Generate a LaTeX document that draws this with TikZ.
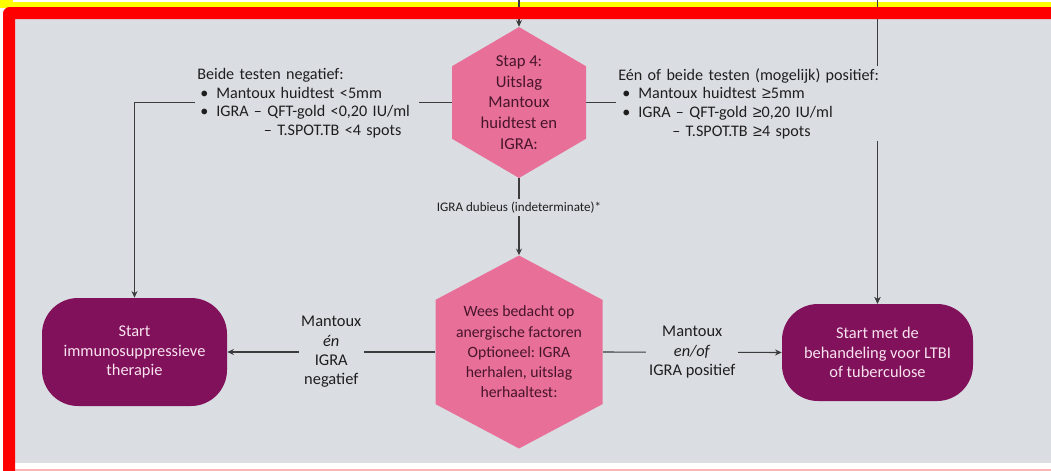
\documentclass[tikz,border=0pt]{standalone}
\usepackage{fontspec}
\setmainfont{Carlito}
\newfontfamily\symfam{Liberation Sans}
\usetikzlibrary{arrows.meta,calc}
\pgfdeclarelayer{bgl}
\pgfdeclarelayer{edgel}
\pgfsetlayers{bgl,edgel,main}
\definecolor{bg}{RGB}{218,222,227}
\definecolor{hexpink}{RGB}{232,112,152}
\definecolor{plum}{RGB}{128,17,90}
\definecolor{plumtext}{RGB}{248,226,238}
\definecolor{hextext}{RGB}{72,20,42}
\definecolor{ink}{RGB}{30,30,30}
\definecolor{wirec}{RGB}{60,60,60}
\definecolor{framered}{RGB}{255,0,0}
\definecolor{band}{RGB}{255,255,0}
\definecolor{pinkline}{RGB}{255,180,180}
\newcommand{\geqsym}{{\symfam ≥}}
\frenchspacing
\begin{document}
\frenchspacing
\begin{tikzpicture}[x=0.75pt,y=-0.75pt,
  wire/.style={draw=wirec, line width=0.8pt},
  arrow/.style={wire, -{Stealth[length=5pt,width=4.5pt]}},
  hexa/.style={inner sep=0pt, fill=bg, text=hextext, align=center,
    path picture={\fill[hexpink] (path picture bounding box.north)
      -- ($(path picture bounding box.north west)!#1!(path picture bounding box.south west)$)
      -- ($(path picture bounding box.south west)!#1!(path picture bounding box.north west)$)
      -- (path picture bounding box.south)
      -- ($(path picture bounding box.south east)!#1!(path picture bounding box.north east)$)
      -- ($(path picture bounding box.north east)!#1!(path picture bounding box.south east)$)
      -- cycle;}},
  endbox/.style={rounded corners=27pt, fill=plum, text=plumtext, align=center,
    font=\fontsize{12.3}{14.5}\selectfont, inner sep=0pt},
  rule/.style={fill=bg, text=ink, inner sep=1.5pt, align=left,
    font=\fontsize{12.1}{14}\selectfont},
  lbl/.style={fill=bg, text=ink, inner sep=2pt, align=center,
    font=\fontsize{12.3}{14.5}\selectfont},
  small/.style={fill=bg, text=ink, inner sep=2pt, font=\fontsize{9.8}{11}\selectfont}]
\useasboundingbox (0,0) rectangle (1051,471);
\begin{pgfonlayer}{bgl}
\fill[white] (0,0) rectangle (1051,471);
\fill[band] (0,2) rectangle (1051,7.5);
\fill[band] (0,0) rectangle (13,7.5);
\fill[bg] (15,19) rectangle (1051,463);
\fill[pinkline] (15,468.5) rectangle (1051,471);
\end{pgfonlayer}

\node[hexa=0.26, minimum width=100.5pt, minimum height=113.25pt,
  font=\fontsize{12.5}{15.6}\selectfont] (h1) at (519,102.5)
  {Stap 4:\\Uitslag\\Mantoux\\huidtest en\\IGRA:};
\node[hexa=0.23, minimum width=125.25pt, minimum height=144.75pt,
  font=\fontsize{11.8}{15.2}\selectfont] (h2) at (519,352)
  {Wees bedacht op\\anergische factoren\\Optioneel: IGRA\\herhalen, uitslag\\herhaaltest:};
\node[endbox, minimum width=138.75pt, minimum height=81pt] (ln) at (134.5,352)
  {Start\\immunosuppressieve\\therapie};
\node[endbox, minimum width=143.25pt, minimum height=72.75pt] (rn) at (877.5,352.5)
  {Start met de\\behandeling voor LTBI\\of tuberculose};
\node[rule, anchor=north west, text width=165pt] (neg) at (195,66)
  {Beide testen negatief:\\
   \hspace*{2.25pt}\makebox[12pt][l]{\textbullet}Mantoux huidtest <5mm\\
   \hspace*{2.25pt}\makebox[12pt][l]{\textbullet}IGRA – QFT-gold <0,20 IU/ml\\
   \hspace*{50pt}– T.SPOT.TB <4 spots};
\node[rule, anchor=north west, text width=200pt] (posi) at (616,66)
  {Eén of beide testen (mogelijk) positief:\\
   \hspace*{3pt}\makebox[12pt][l]{\textbullet}Mantoux huidtest \geqsym5mm\\
   \hspace*{3pt}\makebox[12pt][l]{\textbullet}IGRA – QFT-gold \geqsym0,20 IU/ml\\
   \hspace*{40.5pt}– T.SPOT.TB \geqsym4 spots};

\coordinate (top1) at (519,0);
\coordinate (top2) at (877.5,0);

\begin{pgfonlayer}{edgel}
\draw[arrow] (top1) -- (h1.north);
\draw[arrow] (top2) -- (rn.north);
\draw[arrow] (h1.west) -| (ln.north);
\draw[arrow] (h1.east) -| (rn.north);
\draw[arrow] (h1.south) -- node[small, pos=0.38] {IGRA dubieus (indeterminate)*} (h2.north);
\draw[arrow] (h2.west) -- node[lbl] {Mantoux\\\textit{én}\\IGRA\\negatief} (ln.east);
\draw[arrow] (h2.east) -- node[lbl] {Mantoux\\\textit{en/of}\\IGRA positief} (rn.west);
\end{pgfonlayer}

\fill[framered, even odd rule, rounded corners=5pt] (3,500) rectangle (1070,7)
  [sharp corners] (15,19) rectangle (1070,500);
\end{tikzpicture}
\end{document}
